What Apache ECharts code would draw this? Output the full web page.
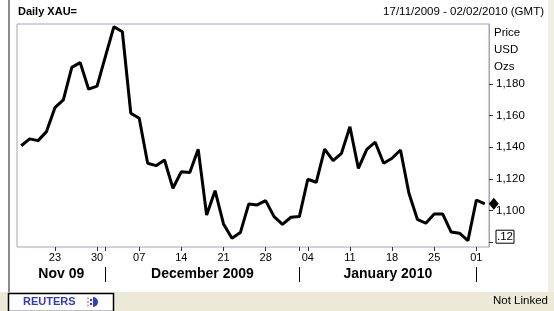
<!DOCTYPE html>
<html>
<head>
<meta charset="utf-8">
<script src="https://cdn.jsdelivr.net/npm/echarts@6/dist/echarts.min.js"></script>
<style>
  html, body { margin: 0; padding: 0; background: #fff; }
  #main { width: 554px; height: 311px; }
</style>
</head>
<body>
<div id="main"></div>
<script>
// trading days shown on the chart
var dates = [
  '2009-11-17','2009-11-18','2009-11-19','2009-11-20','2009-11-23','2009-11-24','2009-11-25','2009-11-26','2009-11-27','2009-11-30',
  '2009-12-01','2009-12-02','2009-12-03','2009-12-04','2009-12-07','2009-12-08','2009-12-09','2009-12-10','2009-12-11','2009-12-14',
  '2009-12-15','2009-12-16','2009-12-17','2009-12-18','2009-12-21','2009-12-22','2009-12-23','2009-12-24','2009-12-25','2009-12-28',
  '2009-12-29','2009-12-30','2009-12-31','2010-01-01','2010-01-04','2010-01-05','2010-01-06','2010-01-07','2010-01-08','2010-01-11',
  '2010-01-12','2010-01-13','2010-01-14','2010-01-15','2010-01-18','2010-01-19','2010-01-20','2010-01-21','2010-01-22','2010-01-25',
  '2010-01-26','2010-01-27','2010-01-28','2010-01-29','2010-02-01','2010-02-02'
];
// XAU= bid (last), USD per ounce
var prices = [
  1141, 1145.3, 1144.2, 1149.9, 1165, 1169.9, 1190.5, 1193.5, 1176.7, 1178.7,
  1197.6, 1216.2, 1213, 1161.5, 1158.3, 1129.9, 1128.4, 1132, 1114.1, 1124.6,
  1124, 1138.7, 1097.2, 1112.6, 1091.6, 1082.5, 1086.1, 1104.2, 1103.6, 1106.3,
  1096.2, 1091.3, 1095.8, 1096.2, 1119.8, 1117.9, 1138.9, 1131.5, 1136.2, 1153,
  1126.7, 1138.7, 1143.2, 1129.9, 1133.1, 1138.3, 1111, 1094.5, 1092, 1097.9,
  1097.9, 1086.5, 1085.7, 1081, 1106.7, 1104.25
];
// weekly ticks (mondays) on the date axis
var weekTicks = ['2009-11-23','2009-11-30','2009-12-07','2009-12-14','2009-12-21','2009-12-28',
                 '2010-01-04','2010-01-11','2010-01-18','2010-01-25','2010-02-01'];
var monthNames = ['Nov 09', 'December 2009', 'January 2010'];
// price axis
var yTicks = [1080, 1100, 1120, 1140, 1160, 1180];
var yTickLabels = ['.12', '1,100', '1,120', '1,140', '1,160', '1,180'];
var yMin = 1077, yMax = 1217.9;

var FONT = 'Liberation Sans, Arial, sans-serif';

// index of first trading day of each month
var monthStarts = [];
for (var i = 1; i < dates.length; i++) {
  if (dates[i].substr(5, 2) !== dates[i - 1].substr(5, 2)) monthStarts.push(i);
}
var monthCenters = [];
var prev = -0.5;
for (var m = 0; m < monthNames.length; m++) {
  monthCenters.push((prev + monthStarts[m]) / 2);
  prev = monthStarts[m];
}

function fmtDate(d) {
  var p = d.split('-');
  return p[2] + '/' + p[1] + '/' + p[0];
}
function fmtNum(v) {
  var s = v.toFixed(2).split('.');
  return s[0].replace(/\B(?=(\d{3})+(?!\d))/g, ',') + '.' + s[1];
}

var last = prices.length - 1;
var seriesData = prices.map(function (v, i) {
  if (i === last) {
    return { value: v, symbol: 'diamond', symbolSize: [10, 12], symbolOffset: [9, 0],
             itemStyle: { color: '#000' } };
  }
  return { value: v, symbol: 'none' };
});

var myChart = echarts.init(document.getElementById('main'));

var option = {
  animation: false,
  backgroundColor: 'transparent',
  textStyle: { fontFamily: FONT },
  grid: {
    left: 17, top: 24, width: 472, height: 223,
    show: true, borderColor: '#a4a4b8', borderWidth: 1, backgroundColor: '#fff'
  },
  xAxis: [{
    type: 'category',
    data: dates,
    boundaryGap: true,
    axisLine: { show: false },
    axisTick: {
      show: true, alignWithLabel: true, length: 4,
      interval: function (idx, val) { return weekTicks.indexOf(val) >= 0 || monthStarts.indexOf(idx) >= 0; },
      lineStyle: { color: '#333' }
    },
    axisLabel: {
      interval: function (idx, val) { return weekTicks.indexOf(val) >= 0; },
      formatter: function (val) { return val.substr(8, 2); },
      color: '#000', fontSize: 11, margin: 5, fontFamily: FONT
    },
    splitLine: { show: false }
  }, {
    type: 'value',
    min: -0.5, max: dates.length - 0.5,
    position: 'bottom',
    offset: 20,
    axisLine: { show: false },
    axisTick: { show: true, customValues: monthStarts, length: 15, lineStyle: { color: '#000', width: 1 } },
    axisLabel: {
      customValues: monthCenters,
      formatter: function (v) {
        for (var k = 0; k < monthCenters.length; k++) {
          if (Math.abs(monthCenters[k] - v) < 1e-6) return monthNames[k];
        }
        return '';
      },
      color: '#000', fontSize: 14, fontWeight: 'bold', margin: 7,
      verticalAlign: 'middle', fontFamily: FONT
    },
    splitLine: { show: false }
  }],
  yAxis: {
    type: 'value',
    position: 'right',
    min: yMin, max: yMax,
    axisLine: { show: true, onZero: false, lineStyle: { color: '#a4a4b8', width: 1 } },
    axisTick: { show: true, inside: false, customValues: yTicks, length: 4, lineStyle: { color: '#333' } },
    axisLabel: {
      customValues: yTicks.map(function (v, k) { return k === 0 ? v + 3.5 : v; }),
      formatter: function (v) {
        for (var k = 0; k < yTicks.length; k++) {
          if (k === 0 && Math.abs(v - yTicks[0] - 3.5) < 1e-6) return '{box|' + yTickLabels[0] + '}';
          if (k > 0 && v === yTicks[k]) return yTickLabels[k];
        }
        return '';
      },
      color: '#000', fontSize: 11.5, margin: 7, fontFamily: FONT,
      rich: {
        box: { borderColor: '#000', borderWidth: 1, padding: [1, 1, 0, 1], fontSize: 11.5, color: '#000', fontFamily: FONT }
      }
    },
    splitLine: { show: false }
  },
  graphic: [
    { type: 'rect', shape: { x: 0, y: 292, width: 554, height: 19 }, style: { fill: '#ece9d8' }, silent: true },
    { type: 'rect', shape: { x: 548, y: 0, width: 6, height: 292 }, style: { fill: '#f1efe4' }, silent: true },
    { type: 'rect', shape: { x: 8, y: 0, width: 2, height: 292 }, style: { fill: '#8c8c86' }, silent: true },
    { type: 'text', left: 18, top: 6, style: { text: 'Daily XAU=', font: 'bold 11px ' + FONT, fill: '#000' } },
    { type: 'text', right: 10, top: 6, style: { text: fmtDate(dates[0]) + ' - ' + fmtDate(dates[last]) + ' (GMT)', font: '11.5px ' + FONT, fill: '#000' } },
    { type: 'text', left: 25, top: 29, z: -1, style: { text: 'Line, XAU=, Bid(Last)', font: '11px ' + FONT, fill: '#222' } },
    { type: 'text', left: 25, top: 46, z: -1, style: { text: fmtDate(dates[last]) + ', ' + fmtNum(prices[last]), font: '11px ' + FONT, fill: '#222' } },
    { type: 'text', left: 494, top: 27, style: { text: 'Price', font: '11.5px ' + FONT, fill: '#000' } },
    { type: 'text', left: 494, top: 44, style: { text: 'USD', font: '11.5px ' + FONT, fill: '#000' } },
    { type: 'text', left: 494, top: 61, style: { text: 'Ozs', font: '11.5px ' + FONT, fill: '#000' } },
    { type: 'rect', shape: { x: 8.5, y: 293.5, width: 105, height: 18 }, style: { fill: '#fff', stroke: '#000', lineWidth: 1.5 } },
    { type: 'text', left: 23, top: 296, style: { text: 'REUTERS', font: 'bold 11px ' + FONT, fill: '#2f3cc0' } },
    { type: 'circle', shape: { cx: 88, cy: 302, r: 1 }, style: { fill: '#f08020' } },
    { type: 'circle', shape: { cx: 88, cy: 298.5, r: 0.9 }, style: { fill: '#f08020' } },
    { type: 'circle', shape: { cx: 88, cy: 305.5, r: 0.9 }, style: { fill: '#f08020' } },
    { type: 'circle', shape: { cx: 91, cy: 300, r: 1.2 }, style: { fill: '#3040c0' } },
    { type: 'circle', shape: { cx: 91, cy: 304, r: 1.2 }, style: { fill: '#3040c0' } },
    { type: 'sector', shape: { cx: 93, cy: 302, r: 5, r0: 0, startAngle: -Math.PI / 2, endAngle: Math.PI / 2 }, style: { fill: '#3040c0' } },
    { type: 'text', right: 6, top: 295, style: { text: 'Not Linked', font: '11.5px ' + FONT, fill: '#000' } }
  ],
  series: [{
    name: 'XAU=',
    type: 'line',
    data: seriesData,
    showSymbol: true,
    showAllSymbol: true,
    clip: false,
    lineStyle: { color: '#000', width: 3 },
    itemStyle: { color: '#000' },
    z: 3
  }]
};

myChart.setOption(option);
</script>
</body>
</html>
